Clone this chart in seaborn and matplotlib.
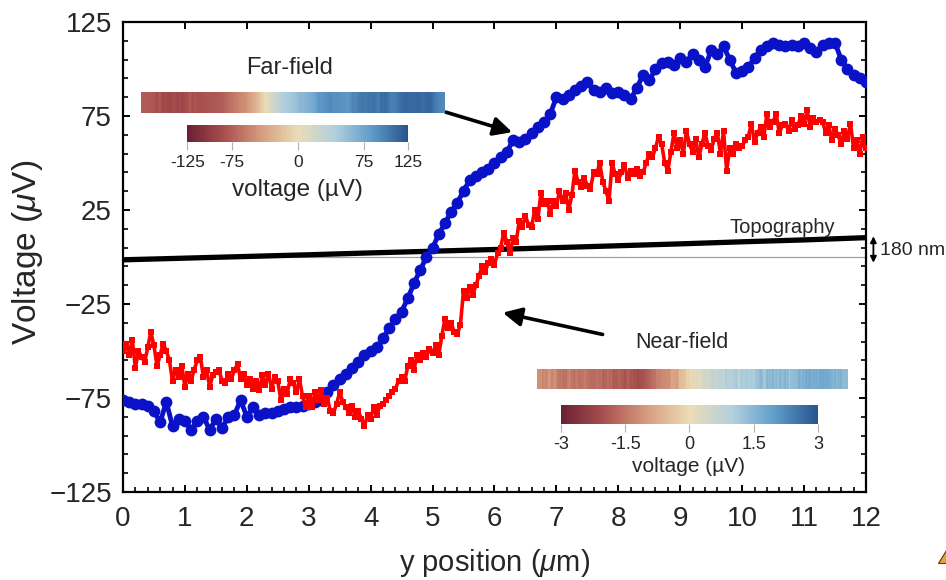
import numpy as np
import pandas as pd
import matplotlib
matplotlib.use("Agg")
import matplotlib.pyplot as plt
import seaborn as sns
from matplotlib.colors import LinearSegmentedColormap, Normalize
from matplotlib.cm import ScalarMappable
from matplotlib.patches import Polygon
from matplotlib.ticker import FixedLocator, MultipleLocator

# ---------------- data ----------------
far_pos = np.round(np.arange(121) * 0.1, 2)   # y position (um)
far_field = [
    -76, -77, -78, -78, -79, -82, -88, -77, -90, -86,
    -87, -92, -87, -85, -92, -86, -91, -85, -84, -76,
    -85, -80, -84, -83, -83, -82, -81, -80, -80, -79,
    -78, -77, -76, -72, -68, -65, -62, -59, -56, -52,
    -50, -48, -43, -38, -33, -29, -22, -14, -7, 0,
    5, 12, 18, 24, 29, 35, 41, 43, 45, 47,
    50, 53, 56, 62, 61, 63, 66, 69, 72, 76,
    85, 84, 86, 89, 91, 93, 89, 88, 90, 87,
    88, 86, 84, 90, 97, 94, 100, 103, 104, 102,
    106, 104, 108, 105, 101, 110, 108, 112, 105, 98,
    99, 101, 106, 110, 112, 114, 113, 112, 113, 112,
    114, 111, 109, 113, 114, 114, 105, 100, 97, 95,
    93,
]

near_pos = np.round(np.arange(241) * 0.05, 2)
near_field = [
    -50, -46, -52, -44, -59, -50, -53, -56, -48, -40, -47, -58, -52, -46, -50, -55, -66, -60, -64, -58,
    -69, -62, -66, -60, -55, -53, -64, -60, -69, -63, -61, -60, -66, -67, -62, -65, -60, -57, -65, -62,
    -68, -65, -70, -66, -71, -63, -68, -62, -70, -64, -66, -76, -70, -73, -65, -67, -72, -65, -74, -80,
    -74, -80, -72, -76, -71, -78, -75, -82, -83, -78, -72, -77, -80, -83, -79, -85, -82, -86, -90, -84,
    -86, -80, -84, -79, -78, -76, -74, -72, -70, -66, -64, -66, -58, -55, -60, -52, -55, -51, -53, -49,
    -51, -47, -52, -42, -33, -38, -35, -40, -41, -36, -18, -22, -16, -20, -15, -10, -5, -8, -3, -1,
    -4, 2, 5, 13, 8, 2, 10, 8, 19, 16, 22, 17, 16, 25, 20, 34, 28, 30, 23, 30,
    27, 35, 30, 34, 25, 33, 46, 40, 37, 42, 38, 36, 45, 44, 50, 40, 35, 30, 50, 44,
    41, 45, 49, 42, 46, 44, 47, 43, 45, 50, 55, 53, 58, 64, 60, 50, 46, 56, 66, 58,
    62, 55, 67, 60, 56, 63, 53, 60, 66, 59, 57, 63, 66, 55, 67, 46, 58, 55, 60, 58,
    59, 62, 64, 71, 61, 66, 69, 64, 76, 69, 72, 76, 66, 70, 71, 67, 73, 68, 70, 75,
    71, 78, 69, 74, 72, 73, 72, 66, 70, 62, 68, 65, 60, 67, 63, 71, 58, 62, 55, 64,
    58,
]

topo_pos = [0, 1, 2, 3, 4, 5, 6, 7, 8, 9, 10, 11, 12]
topography = [-1.5, -0.6, 0.3, 1.2, 2.2, 3.1, 4.0, 5.0, 6.0, 7.0, 8.1, 9.1, 10.3]

y_ticks = [-125, -75, -25, 25, 75, 125]
x_ticks = list(range(0, 13))
far_cb_ticks = [-125, -75, 0, 75, 125]
far_cb_labels = ["-125", "-75", "0", "75", "125"]
near_cb_ticks = [-3, -1.5, 0, 1.5, 3]
near_cb_labels = ["-3", "-1.5", "0", "1.5", "3"]
near_map_scale = 42.0  # plot units -> near-field map units

# ---------------- style ----------------
sns.set_theme(style="ticks")
plt.rcParams["font.family"] = ["Liberation Sans", "DejaVu Sans"]
plt.rcParams["mathtext.fontset"] = "custom"
plt.rcParams["mathtext.rm"] = "Liberation Sans"
plt.rcParams["mathtext.it"] = "Liberation Sans:italic"

cmap = LinearSegmentedColormap.from_list(
    "rb", ["#6a2034", "#a9504f", "#d69c7e", "#ebdcb6", "#b2d0de", "#5f9cc9", "#27548f"])

fig = plt.figure(figsize=(9.46, 5.80), dpi=100)
ax = fig.add_axes([0.130, 0.1517, 0.7854, 0.8103])

df_far = pd.DataFrame({"pos": far_pos, "v": far_field})
df_near = pd.DataFrame({"pos": near_pos, "v": near_field})
df_topo = pd.DataFrame({"pos": topo_pos, "v": topography})

ax.axhline(0, color="#a0a0a0", lw=0.9, zorder=1)
sns.lineplot(data=df_topo, x="pos", y="v", ax=ax, color="black", lw=3.8, zorder=2)
sns.lineplot(data=df_far, x="pos", y="v", ax=ax, color="#0a12c8", lw=3.5,
             marker="o", markersize=8.5, markeredgewidth=0, zorder=3)
sns.lineplot(data=df_near, x="pos", y="v", ax=ax, color="#ff0000", lw=2.6,
             marker="s", markersize=4.5, markeredgewidth=0, zorder=4)

ax.set_xlim(0, 12)
ax.set_ylim(-125, 125)
ax.yaxis.set_major_locator(FixedLocator(y_ticks))
ax.yaxis.set_minor_locator(FixedLocator(list(range(-125, 126, 10))))
ax.xaxis.set_major_locator(FixedLocator(x_ticks))
ax.xaxis.set_minor_locator(MultipleLocator(0.2))
for s in ax.spines.values():
    s.set_linewidth(1.6)
    s.set_color("black")
ax.tick_params(which="both", direction="in", top=True, right=True, color="black")
ax.tick_params(which="major", length=5, width=1.4, labelsize=20)
ax.tick_params(which="minor", length=3.5, width=1.2)
ax.tick_params(axis="x", which="minor", top=False)
ax.tick_params(axis="y", pad=8)
ax.tick_params(axis="x", pad=10)

ax.set_xlabel(r"y position ($\mu$m)", fontsize=21)
ax.set_ylabel(r"Voltage ($\mu$V)", fontsize=24)
ax.yaxis.set_label_coords(-0.105, 0.51)
ax.xaxis.set_label_coords(0.5, -0.118)

# topography annotation
ax.text(10.65, 15.5, "Topography", fontsize=14.5, ha="center", va="center")
ax.annotate("", xy=(12.12, -4.5), xytext=(12.12, 12.5), xycoords="data",
            arrowprops=dict(arrowstyle="<|-|>", lw=1.3, color="black", mutation_scale=9),
            annotation_clip=False)
ax.text(12.22, 3.5, "180 nm", fontsize=14, ha="left", va="center", clip_on=False)

# arrows
ax.annotate("", xy=(6.33, 66), xytext=(5.17, 77.5),
            arrowprops=dict(arrowstyle="-|>", lw=2.6, color="black", mutation_scale=28))
ax.annotate("", xy=(6.09, -29.3), xytext=(7.79, -41.5),
            arrowprops=dict(arrowstyle="-|>", lw=2.6, color="black", mutation_scale=28))

# far-field inset
fig.text(0.3066, 0.883, "Far-field", fontsize=17, ha="center", va="center")
ax_fs = fig.add_axes([0.149, 0.805, 0.321, 0.036])
ax_fs.imshow(np.tile(np.array(far_field, float), (8, 1)), cmap=cmap,
             norm=Normalize(-125, 125), aspect="auto", interpolation="bilinear")
ax_fs.set_axis_off()
cax_f = fig.add_axes([0.198, 0.755, 0.2336, 0.029])
cb_f = fig.colorbar(ScalarMappable(norm=Normalize(-125, 125), cmap=cmap), cax=cax_f,
                    orientation="horizontal", ticks=far_cb_ticks)
cb_f.set_ticklabels(far_cb_labels)
cb_f.outline.set_visible(False)
cax_f.tick_params(length=6, width=0.8, color="#b0b0b0", labelsize=12.5, pad=3, direction="out")
fig.text(0.314, 0.672, "voltage (µV)", fontsize=17.5, ha="center", va="center")

# near-field inset
fig.text(0.721, 0.410, "Near-field", fontsize=15.5, ha="center", va="center")
ax_ns = fig.add_axes([0.5677, 0.329, 0.3277, 0.0345])
ax_ns.imshow(np.tile(np.array(near_field, float) / near_map_scale, (8, 1)), cmap=cmap,
             norm=Normalize(-3, 3), aspect="auto", interpolation="bilinear")
ax_ns.set_axis_off()
cax_n = fig.add_axes([0.593, 0.269, 0.2717, 0.0328])
cb_n = fig.colorbar(ScalarMappable(norm=Normalize(-3, 3), cmap=cmap), cax=cax_n,
                    orientation="horizontal", ticks=near_cb_ticks)
cb_n.set_ticklabels(near_cb_labels)
cb_n.outline.set_visible(False)
cax_n.tick_params(length=6, width=0.8, color="#b0b0b0", labelsize=13, pad=3, direction="out")
fig.text(0.728, 0.195, "voltage (µV)", fontsize=15, ha="center", va="center")

# small corner glyph
fig.patches.append(Polygon([(938 / 946, 1 - 563 / 580), (946 / 946, 1 - 563 / 580),
                            (946 / 946, 1 - 550 / 580)], closed=True,
                           transform=fig.transFigure, facecolor="#e8a33c",
                           edgecolor="#5a3a10", lw=0.8))

fig.savefig("out.png", dpi=100, facecolor="white")
